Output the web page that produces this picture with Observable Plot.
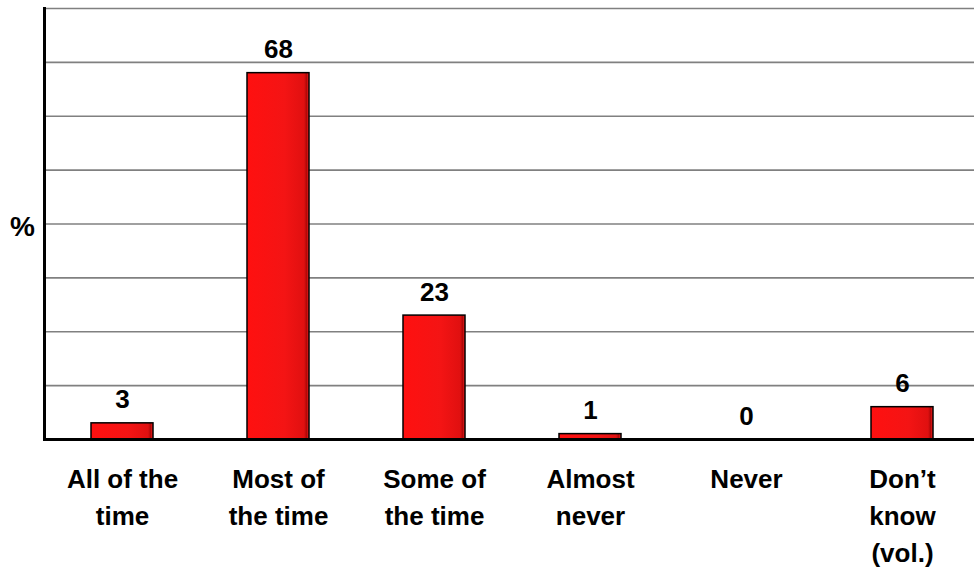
<!DOCTYPE html>
<html>
<head>
<meta charset="utf-8">
<script src="https://cdn.jsdelivr.net/npm/d3@7"></script>
<script src="https://cdn.jsdelivr.net/npm/@observablehq/plot@0.6"></script>
<style>
  html, body { margin: 0; padding: 0; background: #fff; }
  #chart svg { display: block; }
</style>
</head>
<body>
<div id="chart"></div>
<script>
const categories = ["All of the\ntime", "Most of\nthe time", "Some of\nthe time", "Almost\nnever", "Never", "Don\u2019t\nknow\n(vol.)"];
const values = [3, 68, 23, 1, 0, 6];
const gridTicks = [10, 20, 30, 40, 50, 60, 70, 80];
const yLabel = "%";

const data = categories.map((c, i) => ({category: c, value: values[i]}));

const font = "'Liberation Sans', Arial, Helvetica, sans-serif";

// gradient definition for the bar fill (red with darker right edge)
const defs = () => {
  const g = d3.create("svg:defs");
  const lg = g.append("linearGradient").attr("id", "barGrad").attr("x1", "0").attr("x2", "1").attr("y1", "0").attr("y2", "0");
  lg.append("stop").attr("offset", "0%").attr("stop-color", "#ff1010");
  lg.append("stop").attr("offset", "60%").attr("stop-color", "#f41414");
  lg.append("stop").attr("offset", "92%").attr("stop-color", "#e01010");
  lg.append("stop").attr("offset", "96%").attr("stop-color", "#b00808");
  lg.append("stop").attr("offset", "100%").attr("stop-color", "#ff2020");
  return g.node();
};

const chart = Plot.plot({
  width: 974,
  height: 567,
  marginTop: 8,
  marginBottom: 128,
  marginLeft: 44,
  marginRight: 0,
  style: {fontFamily: font, fontWeight: "bold", background: "#fff", color: "#000", overflow: "visible"},
  x: {domain: categories, range: [44, 980], paddingInner: 0.6, paddingOuter: 0.3, axis: null},
  y: {domain: [0, 80], axis: null},
  marks: [
    defs,
    Plot.gridY(gridTicks, {stroke: "#808080", strokeOpacity: 1, strokeWidth: 1.6}),
    Plot.barY(data, {x: "category", y: "value", fill: "url(#barGrad)", stroke: "#000", strokeWidth: 1.5}),
    Plot.ruleY([0], {stroke: "#000", strokeWidth: 3}),
    Plot.frame({anchor: "left", stroke: "#000", strokeWidth: 3}),
    Plot.text(data, {x: "category", y: "value", text: d => String(d.value), lineAnchor: "bottom", dy: -15, fontSize: 26, fontWeight: "bold", fill: "#000", letterSpacing: 1}),
    Plot.axisX({tickSize: 0, tickPadding: 22, fontSize: 26, fontWeight: "bold", lineHeight: 1.42, label: null, fill: "#000", letterSpacing: 1.2}),
    Plot.text([yLabel], {frameAnchor: "left", textAnchor: "middle", dx: -22, dy: 3, fontSize: 28, fontWeight: "bold", fill: "#000"})
  ]
});
document.getElementById("chart").appendChild(chart);
</script>
</body>
</html>
